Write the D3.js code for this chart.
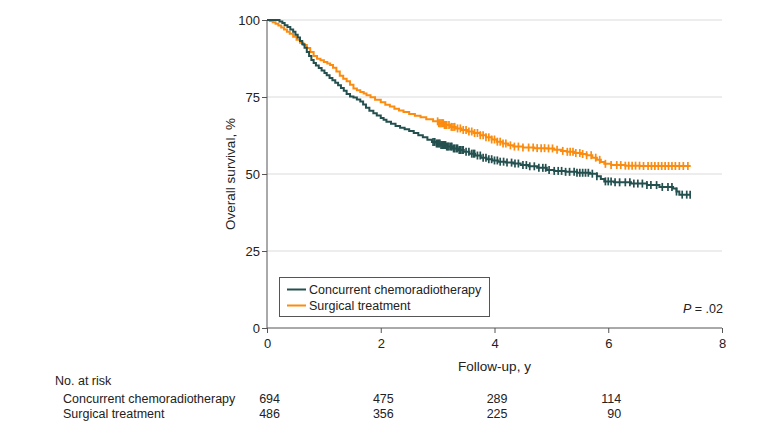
<!DOCTYPE html>
<html><head><meta charset="utf-8">
<script src="https://cdn.jsdelivr.net/npm/d3@7"></script>
<style>
body{margin:0;background:#fff;}
svg text{font-family:"Liberation Sans",Arial,sans-serif;fill:#222;}
</style></head><body>
<svg id="c" width="780" height="432"></svg>
<script>
// ---------- data ----------
const seriesNames = ["Concurrent chemoradiotherapy", "Surgical treatment"];
const seriesColors = ["#24504f", "#fb8c0f"];
const ccrtTimes = [0,0.18,0.22,0.27,0.31,0.36,0.41,0.46,0.50,0.54,0.58,0.62,0.66,0.70,0.74,0.78,0.82,0.86,0.91,0.96,1.01,1.05,1.10,1.15,1.20,1.25,1.30,1.35,1.40,1.46,1.52,1.58,1.64,1.69,1.74,1.80,1.87,1.93,2.00,2.05,2.10,2.18,2.26,2.34,2.42,2.50,2.58,2.66,2.74,2.82,2.90,2.98,3.06,3.16,3.26,3.36,3.46,3.56,3.66,3.76,3.86,3.96,4.06,4.20,4.33,4.46,4.60,4.75,4.92,5.05,5.25,5.45,5.68,5.80,5.87,5.93,6.10,6.40,6.68,6.90,7.14,7.20,7.25,7.44];
const ccrtSurv  = [100,100,99.5,99,98.3,97.7,96.9,96.2,95.2,94.3,93.2,92.1,91.0,89.6,88.3,87.0,86.0,85.2,84.4,83.6,82.8,82.1,81.2,80.4,79.6,78.8,77.9,77.0,76.0,75.2,74.8,74.2,73.5,72.6,71.5,70.5,69.7,69.0,68.2,67.6,67.0,66.3,65.6,65.0,64.5,64.0,63.3,62.6,61.9,61.1,60.4,59.9,59.4,58.9,58.3,57.8,57.2,56.6,56.0,55.3,54.8,54.4,54.0,53.7,53.4,52.9,52.5,52.0,51.3,51.0,50.7,50.4,50.1,49.3,48.4,47.6,47.3,46.9,46.4,45.8,45.3,44.3,43.3,43.3];
const surgTimes = [0,0.05,0.10,0.15,0.20,0.25,0.30,0.35,0.40,0.46,0.52,0.58,0.64,0.70,0.76,0.82,0.88,0.94,1.00,1.06,1.11,1.16,1.22,1.28,1.34,1.40,1.46,1.52,1.58,1.64,1.70,1.75,1.82,1.90,2.00,2.08,2.16,2.24,2.32,2.40,2.50,2.60,2.70,2.80,2.92,3.02,3.12,3.22,3.32,3.42,3.52,3.63,3.75,3.85,3.95,4.04,4.14,4.24,4.33,4.50,4.70,4.92,5.05,5.17,5.27,5.40,5.52,5.62,5.72,5.80,5.87,5.93,6.05,6.30,6.56,7.45];
const surgSurv  = [100,99.7,99.3,98.8,98.2,97.6,96.9,96.2,95.5,94.6,93.6,92.6,91.9,90.9,89.6,88.3,87.4,86.9,86.4,85.9,85.4,84.5,83.3,81.9,80.9,80.1,79.0,77.8,77.2,76.6,76.1,75.6,74.9,74.1,73.3,72.5,71.9,71.2,70.6,70.1,69.5,68.9,68.4,67.8,67.1,66.5,65.9,65.3,64.8,64.3,63.8,63.3,62.6,61.9,61.2,60.5,59.9,59.3,58.9,58.6,58.4,58.3,57.9,57.5,57.2,56.8,56.5,56.1,55.3,54.6,53.9,53.3,52.9,52.7,52.6,52.6];
const ccrtCensor = [2.92,2.95,2.98,3.0,3.02,3.04,3.06,3.08,3.1,3.12,3.14,3.16,3.18,3.2,3.23,3.25,3.28,3.3,3.33,3.35,3.38,3.4,3.43,3.45,3.5,3.55,3.6,3.63,3.65,3.7,3.75,3.8,3.85,3.9,3.95,4.0,4.05,4.1,4.16,4.22,4.3,4.36,4.42,4.5,4.56,4.62,4.7,4.78,4.85,4.9,4.96,5.05,5.12,5.18,5.25,5.32,5.4,5.45,5.5,5.55,5.6,5.65,5.72,5.8,5.95,6.0,6.05,6.12,6.2,6.3,6.38,6.45,6.52,6.6,6.68,6.75,6.85,6.95,7.05,7.12,7.2,7.3,7.38,7.44];
const surgCensor = [3.0,3.02,3.04,3.06,3.08,3.1,3.12,3.14,3.16,3.2,3.24,3.27,3.3,3.35,3.4,3.45,3.5,3.55,3.6,3.65,3.7,3.75,3.8,3.85,3.9,3.95,4.0,4.05,4.1,4.15,4.2,4.28,4.35,4.42,4.5,4.6,4.68,4.75,4.82,4.88,4.95,5.02,5.1,5.2,5.28,5.33,5.38,5.43,5.5,5.55,5.62,5.7,5.78,5.85,5.95,6.05,6.15,6.22,6.3,6.36,6.42,6.48,6.55,6.62,6.7,6.76,6.82,6.88,6.94,7.0,7.06,7.12,7.18,7.25,7.32,7.4];
const xTicks = [0,2,4,6,8];
const yTicks = [0,25,50,75,100];
const riskTimes = [0,2,4,6];
const riskCcrt = [694,475,289,114];
const riskSurg = [486,356,225,90];

// ---------- drawing ----------
const FS = 12.5;
const svg = d3.select("#c");
const x = d3.scaleLinear().domain([0,8]).range([267,722]);
const y = d3.scaleLinear().domain([0,100]).range([328,20]);

// gridlines
svg.append("g").selectAll("line").data(yTicks.filter(d=>d>0)).join("line")
  .attr("x1",x(0)).attr("x2",x(8)).attr("y1",d=>y(d)).attr("y2",d=>y(d))
  .attr("stroke","#dcdcdc").attr("stroke-width",1.2);

// axes
const yAxis = svg.append("g").attr("transform",`translate(${x(0)},0)`)
  .call(d3.axisLeft(y).tickValues(yTicks).tickSize(5).tickPadding(2));
const xAxis = svg.append("g").attr("transform",`translate(0,${y(0)})`)
  .call(d3.axisBottom(x).tickValues(xTicks).tickSize(5).tickPadding(6));
[yAxis,xAxis].forEach(a=>{
  a.selectAll("path,line").attr("stroke","#555").attr("stroke-width",1);
  a.selectAll("text").attr("font-size",13).attr("fill","#222")
    .style("font-family",'"Liberation Sans",Arial,sans-serif');
});
yAxis.select(".domain").attr("d",`M0,${y(0)}V${y(100)}`);
xAxis.select(".domain").attr("d",`M${x(0)},0H${x(8)}`);

// axis titles
svg.append("text").attr("transform",`translate(235,${(y(0)+y(100))/2}) rotate(-90)`)
  .attr("text-anchor","middle").attr("font-size",13.5).text("Overall survival, %");
svg.append("text").attr("x",(x(0)+x(8))/2).attr("y",371).attr("text-anchor","middle")
  .attr("font-size",13.5).text("Follow-up, y");

// curves
const series = [
  {t:ccrtTimes,s:ccrtSurv,c:ccrtCensor,color:seriesColors[0]},
  {t:surgTimes,s:surgSurv,c:surgCensor,color:seriesColors[1]}
];
const line = d3.line().x(d=>x(d[0])).y(d=>y(d[1])).curve(d3.curveStepAfter);
function survAt(sr,t){
  const i = d3.bisectRight(sr.t,t)-1;
  return sr.s[Math.max(0,i)];
}
series.slice().reverse().forEach(sr=>{
  const pts = sr.t.map((t,i)=>[t,sr.s[i]]);
  svg.append("path").datum(pts).attr("d",line).attr("fill","none")
    .attr("stroke",sr.color).attr("stroke-width",2);
  svg.append("g").selectAll("line").data(sr.c).join("line")
    .attr("x1",d=>x(d)).attr("x2",d=>x(d))
    .attr("y1",d=>y(survAt(sr,d))-4).attr("y2",d=>y(survAt(sr,d))+4)
    .attr("stroke",sr.color).attr("stroke-width",1.7);
});

// legend
const lg = svg.append("g");
lg.append("rect").attr("x",279.5).attr("y",277.5).attr("width",210).attr("height",39)
  .attr("fill","#fff").attr("stroke","#555").attr("stroke-width",1);
seriesNames.forEach((n,i)=>{
  const ly = 289.5 + i*16;
  lg.append("line").attr("x1",287).attr("x2",306).attr("y1",ly).attr("y2",ly)
    .attr("stroke",seriesColors[i]).attr("stroke-width",2);
  lg.append("text").attr("x",309).attr("y",ly+4.5).attr("font-size",FS).text(n);
});

// p value
const pt = svg.append("text").attr("x",723).attr("y",313).attr("text-anchor","end").attr("font-size",FS);
pt.append("tspan").attr("font-style","italic").text("P");
pt.append("tspan").text(" = .02");

// risk table
svg.append("text").attr("x",55).attr("y",385).attr("font-size",FS).text("No. at risk");
[[seriesNames[0],riskCcrt],[seriesNames[1],riskSurg]].forEach(([n,vals],i)=>{
  const ry = 402.5 + i*15;
  svg.append("text").attr("x",63).attr("y",ry).attr("font-size",FS).text(n);
  svg.append("g").selectAll("text").data(vals).join("text")
    .attr("x",(d,j)=>x(riskTimes[j])+13).attr("y",ry).attr("text-anchor","end")
    .attr("font-size",FS).text(d=>d);
});
</script></body></html>
